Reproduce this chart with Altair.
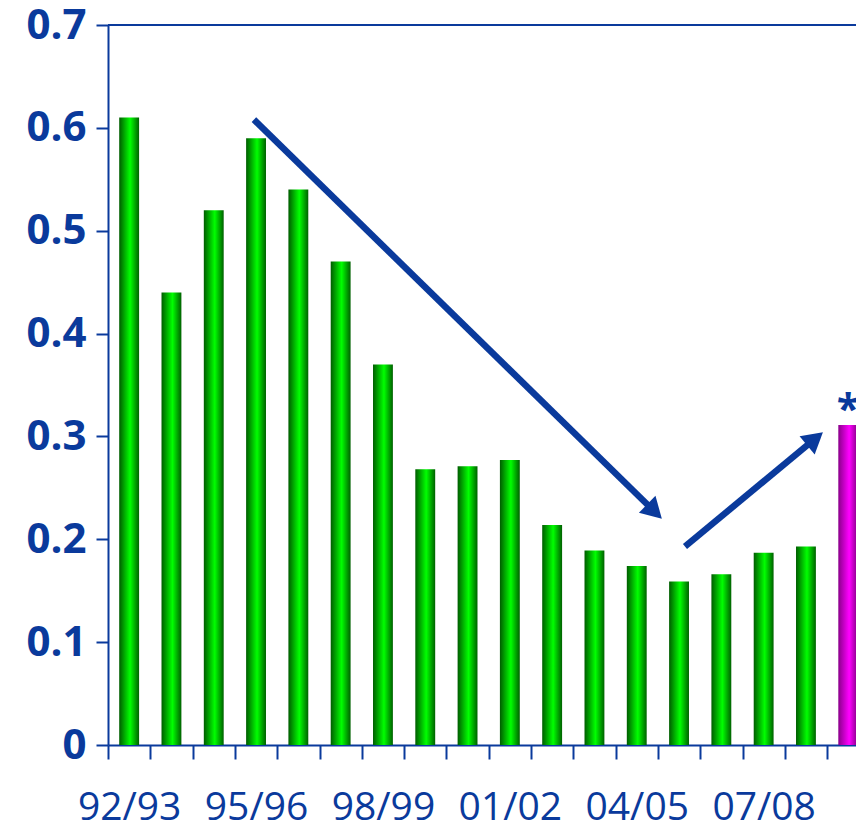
import math
import altair as alt
import pandas as pd

# ---- data ----
seasons = ["92/93", "93/94", "94/95", "95/96", "96/97", "97/98", "98/99", "99/00",
           "00/01", "01/02", "02/03", "03/04", "04/05", "05/06", "06/07", "07/08",
           "08/09", "09/10"]
values = [0.61, 0.44, 0.52, 0.59, 0.54, 0.47, 0.37, 0.268, 0.271, 0.277,
          0.214, 0.189, 0.174, 0.159, 0.166, 0.187, 0.193, 0.311]
kinds = ["green"] * 17 + ["magenta"]
notes = [""] * 17 + ["*"]
shown_labels = ["92/93", "95/96", "98/99", "01/02", "04/05", "07/08"]
y_ticks = [0, 0.1, 0.2, 0.3, 0.4, 0.5, 0.6, 0.7]

# arrows in data units (x = fractional season index, y = value)
arrow_x0 = [3.45, 13.64]
arrow_y0 = [0.608, 0.193]
arrow_x1 = [13.12, 16.93]
arrow_y1 = [0.219, 0.305]

# ---- styling ----
BLUE = "#0a3a9c"
STEP = 42.3
PLOT_W = 748
PLOT_H = 720
Y_MAX = 0.7
N = len(seasons)
RANGE_W = STEP * N
HEAD_SIZE = 560
HEAD_R = math.sqrt(HEAD_SIZE) / 2

df = pd.DataFrame({"season": seasons, "value": values, "kind": kinds, "note": notes})

green = alt.Gradient(gradient="linear", x1=0, x2=1, y1=0, y2=0, stops=[
    alt.GradientStop(color="#005c00", offset=0),
    alt.GradientStop(color="#00ff00", offset=0.55),
    alt.GradientStop(color="#006000", offset=1)])
magenta = alt.Gradient(gradient="linear", x1=0, x2=1, y1=0, y2=0, stops=[
    alt.GradientStop(color="#8a008a", offset=0),
    alt.GradientStop(color="#ff00ff", offset=0.55),
    alt.GradientStop(color="#7a007a", offset=1)])

label_list = "[" + ",".join("'%s'" % s for s in shown_labels) + "]"

x_band = alt.X("season:N", sort=seasons, title=None,
               scale=alt.Scale(domain=seasons, range=[0, RANGE_W],
                               paddingInner=0.53, paddingOuter=0.265),
               axis=alt.Axis(labelExpr="indexof(%s, datum.label) >= 0 ? datum.label : ''" % label_list,
                             labelAngle=0, labelFont="Open Sans", labelFontSize=39,
                             labelColor=BLUE, labelPadding=29, labelOverlap=False,
                             labelFlush=False,
                             tickOffset=-STEP / 2, labelOffset=STEP / 2,
                             tickSize=14, tickWidth=2, tickColor=BLUE,
                             domainColor=BLUE, domainWidth=2, grid=False))
y_enc = alt.Y("value:Q", title=None,
              scale=alt.Scale(domain=[0, Y_MAX], nice=False),
              axis=alt.Axis(values=y_ticks, format=".1~f", labelFont="Open Sans",
                            labelFontWeight="bold", labelFontSize=42, labelColor=BLUE,
                            labelPadding=10, tickSize=12, tickWidth=2, tickColor=BLUE,
                            domainColor=BLUE, domainWidth=2, grid=False))

base = alt.Chart(df)
bars_g = base.mark_bar(color=green).encode(x=x_band, y=y_enc).transform_filter(
    alt.datum.kind == "green")
bars_m = base.mark_bar(color=magenta).encode(x=x_band, y="value:Q").transform_filter(
    alt.datum.kind == "magenta")
star = base.mark_text(font="Open Sans", fontWeight="bold", fontSize=42, color=BLUE,
                      baseline="alphabetic", dy=-2).encode(
    x="season:N", y="value:Q", text="note:N")
top_rule = alt.Chart(df).mark_rule(color=BLUE, strokeWidth=2).encode(y=alt.datum(Y_MAX))

band_group = alt.layer(bars_g, bars_m, star, top_rule)

# arrows: compute head angle and centre from the pixel geometry
px_per_x = RANGE_W / N
px_per_y = PLOT_H / Y_MAX
rows = []
for x0, y0, x1, y1 in zip(arrow_x0, arrow_y0, arrow_x1, arrow_y1):
    dxp = (x1 - x0) * px_per_x
    dyp = -(y1 - y0) * px_per_y
    L = math.hypot(dxp, dyp)
    ux, uy = dxp / L, dyp / L
    cx = x1 - HEAD_R * ux / px_per_x
    cy = y1 + HEAD_R * uy / px_per_y
    ang = math.degrees(math.atan2(dyp, dxp)) % 360
    rows.append({"x0": x0, "y0": y0, "cx": cx, "cy": cy, "ang": ang})
adf = pd.DataFrame(rows)

xq = alt.Scale(domain=[0, N], range=[0, RANGE_W], nice=False, zero=False)
arrow_lines = alt.Chart(adf).mark_rule(color=BLUE, strokeWidth=6.5).encode(
    x=alt.X("x0:Q", scale=xq, axis=None), x2="cx:Q",
    y=alt.Y("y0:Q"), y2="cy:Q")
arrow_heads = alt.Chart(adf).mark_point(shape="triangle-right", filled=True, opacity=1,
                                        color=BLUE, size=HEAD_SIZE).encode(
    x=alt.X("cx:Q", scale=xq, axis=None), y="cy:Q",
    angle=alt.Angle("ang:Q", scale=None))
arrow_group = alt.layer(arrow_lines, arrow_heads)

chart = alt.layer(band_group, arrow_group).resolve_scale(x="independent").properties(
    width=PLOT_W, height=PLOT_H,
    autosize=alt.AutoSizeParams(type="none"),
    padding={"left": 100, "top": 17, "right": 0, "bottom": 81},
).configure_view(stroke=None).configure(background="white")

chart.save("out.html", embed_options={"renderer": "svg", "actions": False})
